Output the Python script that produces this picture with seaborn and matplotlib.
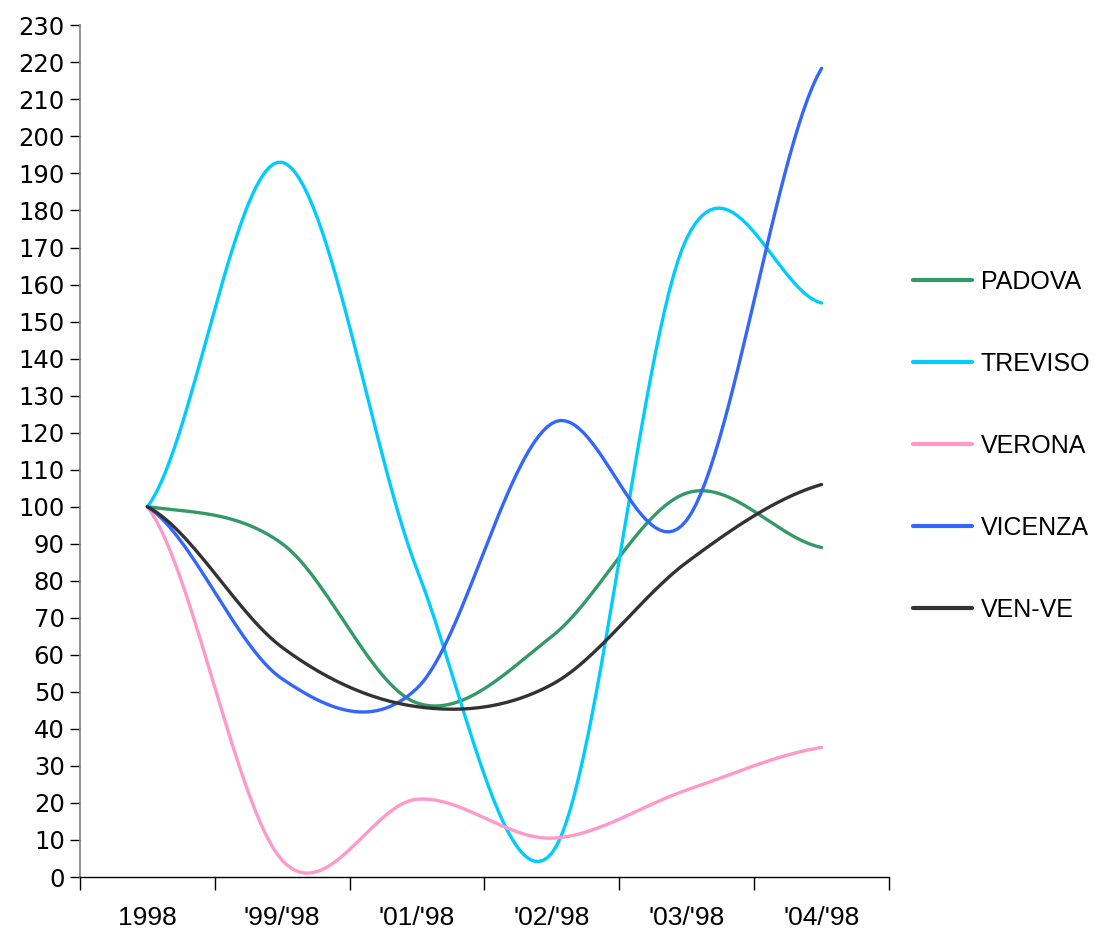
import numpy as np
import pandas as pd
import matplotlib.pyplot as plt
import seaborn as sns

# data (index, 1998 = 100)
periods = ["1998", "'99/'98", "'01/'98", "'02/'98", "'03/'98", "'04/'98"]
padova = [100, 90, 47, 65, 103.7, 89]
treviso = [100, 193, 83, 6.5, 172.5, 155]
verona = [100, 4.5, 21, 10.5, 23.5, 35]
vicenza = [100, 53.5, 51, 122.5, 96.4, 218.4]
ven_ve = [100, 62, 46, 52, 85, 106]

series = {"PADOVA": padova, "TREVISO": treviso, "VERONA": verona,
          "VICENZA": vicenza, "VEN-VE": ven_ve}
colors = {"PADOVA": "#339966", "TREVISO": "#00CCFF", "VERONA": "#FF99CC",
          "VICENZA": "#3366FF", "VEN-VE": "#333333"}


def smooth(vals, steps=30):
    # Catmull-Rom curve through the points, like a "smoothed line" chart
    p = np.asarray(vals, dtype=float)
    pad = np.concatenate([[p[0]], p, [p[-1]]])
    xs, ys = [], []
    for i in range(len(p) - 1):
        p0, p1, p2, p3 = pad[i], pad[i + 1], pad[i + 2], pad[i + 3]
        m1 = (p2 - p0) / 2
        m2 = (p3 - p1) / 2
        t = np.linspace(0, 1, steps, endpoint=(i == len(p) - 2))
        h00 = 2 * t**3 - 3 * t**2 + 1
        h10 = t**3 - 2 * t**2 + t
        h01 = -2 * t**3 + 3 * t**2
        h11 = t**3 - t**2
        xs.append(i + t)
        ys.append(h00 * p1 + h10 * m1 + h01 * p2 + h11 * m2)
    return np.concatenate(xs), np.concatenate(ys)


rows = []
for name, vals in series.items():
    x, y = smooth(vals)
    rows.append(pd.DataFrame({"x": x, "value": y, "city": name}))
df = pd.concat(rows, ignore_index=True)

sns.set_style("white")
plt.rcParams['font.family'] = ['DejaVu Sans']
plt.rcParams['text.color'] = 'black'
narrow = ['Liberation Sans', 'DejaVu Sans']

fig = plt.figure(figsize=(11, 9.38), dpi=100)
ax = fig.add_axes([0.0727, 0.065, 0.7355, 0.908])

sns.lineplot(data=df, x="x", y="value", hue="city", palette=colors,
             linewidth=2.4, ax=ax, sort=False, estimator=None)

ax.set_xlim(-0.5, 5.5)
ax.set_ylim(0, 230)
ax.set_yticks(np.arange(0, 231, 10))
ax.tick_params(axis='y', labelsize=17.5, length=7, width=1, direction='out',
               left=True, pad=4, colors='black', labelcolor='black')
ax.set_xticks(np.arange(-0.5, 5.6, 1))
ax.set_xticklabels([])
ax.set_xticks(range(len(periods)), minor=True)
ax.set_xticklabels(periods, minor=True, fontsize=19, family=narrow,
                   color='black')
ax.tick_params(axis='x', which='major', length=9, width=1, direction='out',
               bottom=True, colors='black')
ax.tick_params(axis='x', which='minor', length=0, pad=21)

for s in ['top', 'right']:
    ax.spines[s].set_visible(False)
ax.spines['left'].set_color('#808080')
ax.spines['left'].set_linewidth(1.2)
ax.spines['bottom'].set_color('black')
ax.spines['bottom'].set_linewidth(1)
ax.set_xlabel("")
ax.set_ylabel("")

leg = ax.legend(loc='upper left', bbox_to_anchor=(1.03, 0.713), frameon=False,
                prop={'family': narrow, 'size': 18}, handlelength=2.35,
                handletextpad=0.35, labelspacing=2.32, borderpad=0,
                borderaxespad=0)
for line in leg.get_lines():
    line.set_linewidth(3)
for txt in leg.get_texts():
    txt.set_color('black')

fig.savefig("out.png", dpi=100)
